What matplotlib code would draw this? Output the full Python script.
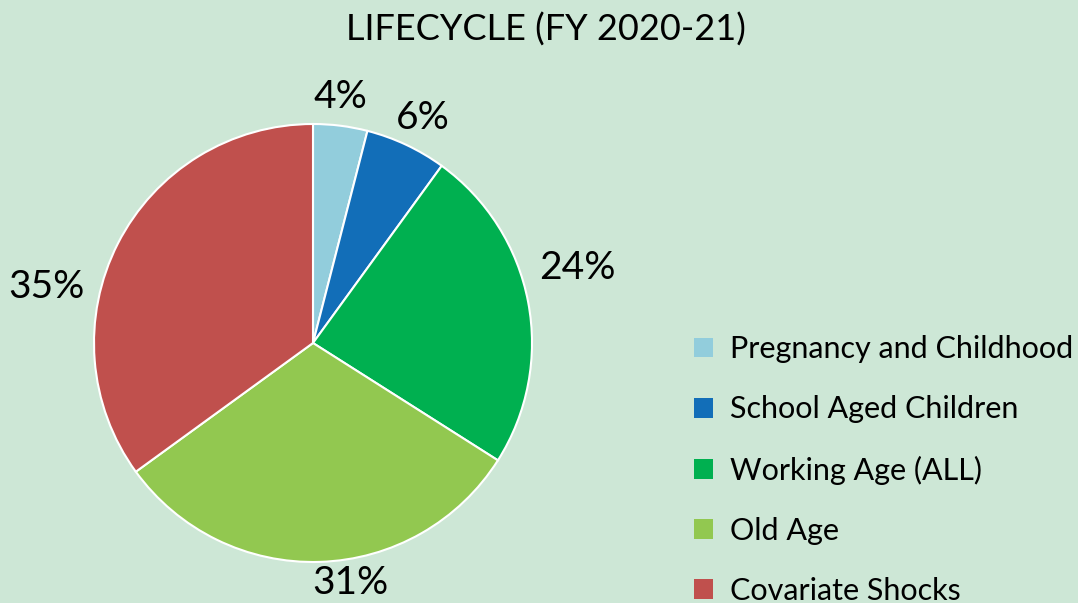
import matplotlib.pyplot as plt
from matplotlib.patches import Patch

categories = ["Pregnancy and Childhood", "School Aged Children", "Working Age (ALL)",
              "Old Age", "Covariate Shocks"]
shares = [4, 6, 24, 31, 35]
colors = ["#92CDDC", "#126EB8", "#00B050", "#92C850", "#C0504D"]
title = "LIFECYCLE (FY 2020-21)"

plt.rcParams["font.family"] = ["Lato", "DejaVu Sans"]
bg = "#CDE7D6"

fig = plt.figure(figsize=(10.78, 6.03), dpi=100, facecolor=bg)
# pie centre at (313, 343) px, radius 219 px
ax = fig.add_axes([94 / 1078, 41 / 603, 438 / 1078, 438 / 603])
ax.set_facecolor(bg)

wedges, _ = ax.pie(shares, colors=colors, startangle=90, counterclock=False,
                   radius=1, wedgeprops=dict(edgecolor="white", linewidth=1.5))
ax.set_xlim(-1, 1)
ax.set_ylim(-1, 1)
ax.set_aspect("equal")
ax.axis("off")

# label anchor positions (pie radius units), matched to the reference layout
label_xy = [(0.123, 1.123), (0.502, 1.027), (1.205, 0.342), (0.169, -1.096), (-1.215, 0.256)]
for v, (x, y) in zip(shares, label_xy):
    ax.text(x, y, "{}%".format(v), ha="center", va="center", fontsize=28,
            color="black", clip_on=False)

fig.text(546 / 1078, 1 - 30 / 603, title, ha="center", va="center", fontsize=26)

handles = [Patch(facecolor=c, edgecolor="none") for c in colors]
fig.legend(handles, categories, loc="center left",
           bbox_to_anchor=(694 / 1078, 1 - 470 / 603), frameon=False,
           borderpad=0, borderaxespad=0,
           fontsize=22, labelspacing=1.05, handlelength=0.62, handleheight=0.62,
           handletextpad=0.55)

fig.savefig("out.png", dpi=100, facecolor=bg)
